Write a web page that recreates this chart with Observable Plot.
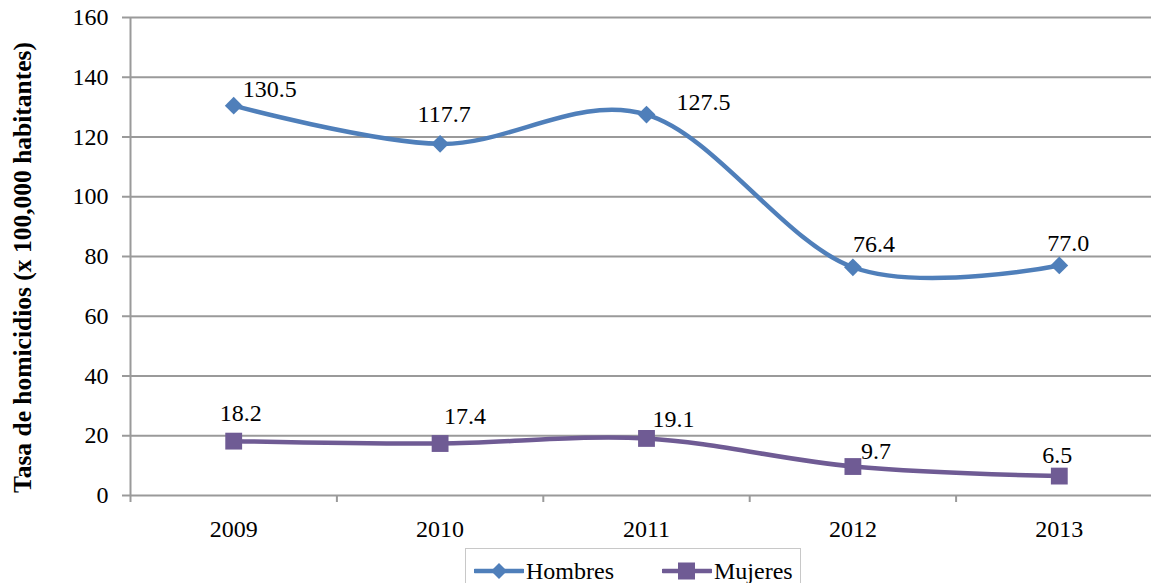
<!DOCTYPE html>
<html>
<head>
<meta charset="utf-8">
<script src="https://cdn.jsdelivr.net/npm/d3@7"></script>
<script src="https://cdn.jsdelivr.net/npm/@observablehq/plot@0.6"></script>
<style>
  html, body { margin: 0; padding: 0; background: #fff; overflow: hidden; }
  #chart { width: 1151px; height: 583px; position: relative; font-family: 'Liberation Serif', serif; }
  #legend { position: absolute; left: 465px; top: 548px; width: 336px; height: 44px; border: 1px solid #c8c8c8; box-sizing: border-box; background: #fff; font-family: 'Liberation Serif', serif; }
  .lg-item { position: absolute; top: 3px; display: flex; align-items: center; font-size: 24px; color: #000; }
  .lg-item svg { display: block; margin-right: 2px; }
</style>
</head>
<body>
<div id="chart"></div>
<script>
// ---- data ----
const years = [2009, 2010, 2011, 2012, 2013];
const hombres = [130.5, 117.7, 127.5, 76.4, 77.0];
const mujeres = [18.2, 17.4, 19.1, 9.7, 6.5];
const seriesNames = ["Hombres", "Mujeres"];
const yTicks = [0, 20, 40, 60, 80, 100, 120, 140, 160];
const yLabel = "Tasa de homicidios (x 100,000 habitantes)";

// ---- styles ----
const FONT = "Liberation Serif";
const colors = ["#4f7fba", "#6f5b94"];
const symbols = ["diamond2", "square"];
// label offsets (dx, dy) per point, per series
const offsetsH = [[36, -16], [4, -30], [57, -12], [21, -23], [9, -22]];
const offsetsM = [[7, -28], [25, -27], [27, -19], [23, -15], [-2, -21]];

const rows = [];
years.forEach((yr, i) => {
  rows.push({year: yr, value: hombres[i], series: seriesNames[0], dx: offsetsH[i][0], dy: offsetsH[i][1]});
});
years.forEach((yr, i) => {
  rows.push({year: yr, value: mujeres[i], series: seriesNames[1], dx: offsetsM[i][0], dy: offsetsM[i][1]});
});
const boundaries = d3.range(years.length + 1).map(i => years[0] - 0.5 + i);

const grid = "#9a9a9a";

const chart = Plot.plot({
  width: 1151,
  height: 540,
  marginLeft: 130,
  marginRight: -11,
  marginTop: 17,
  marginBottom: 45,
  style: {fontSize: "24px", background: "#fff", overflow: "visible"},
  x: {type: "linear", domain: [years[0] - 0.5, years[years.length - 1] + 0.5], axis: null},
  y: {domain: [0, 160], axis: null},
  color: {domain: seriesNames, range: colors},
  symbol: {domain: seriesNames, range: symbols},
  marks: [
    Plot.gridY(yTicks, {stroke: grid, strokeOpacity: 1, strokeWidth: 2}),
    Plot.ruleX([boundaries[0]], {stroke: grid, strokeWidth: 2}),
    Plot.axisY(yTicks, {tickSize: 8, tickPadding: 14, stroke: grid, strokeWidth: 2, fill: "#000", fontSize: 24, label: null, fontFamily: FONT}),
    Plot.axisX(boundaries, {tickSize: 7, stroke: grid, strokeWidth: 2, tickFormat: () => "", label: null}),
    Plot.axisX(years, {tickSize: 0, tickPadding: 24, tickFormat: d => String(d), fill: "#000", fontSize: 24, label: null, fontFamily: FONT}),
    ...seriesNames.map((s, k) => Plot.line(rows.filter(d => d.series === s), {
      x: "year", y: "value", stroke: colors[k], strokeWidth: 4.5, curve: "cardinal", tension: 0
    })),
    Plot.dot(rows.filter(d => d.series === seriesNames[0]), {x: "year", y: "value", symbol: "series", fill: colors[0], r: 8}),
    Plot.dot(rows.filter(d => d.series === seriesNames[1]), {x: "year", y: "value", symbol: "series", fill: colors[1], r: 9.5}),
    ...rows.map(d => Plot.text([d], {
      x: "year", y: "value", text: v => v.value.toFixed(1), dx: d.dx, dy: d.dy,
      fontSize: 24, fill: "#000", textAnchor: "middle", lineAnchor: "middle", fontFamily: FONT
    })),
    Plot.text([yLabel], {
      frameAnchor: "left", rotate: -90, dx: -108, dy: 11, text: d => d,
      fontSize: 25.5, fontWeight: "bold", fill: "#000", textAnchor: "middle", lineAnchor: "middle", fontFamily: FONT
    })
  ]
});

const root = document.getElementById("chart");
root.appendChild(chart);

// legend
const legend = document.createElement("div");
legend.id = "legend";
const legendX = [8, 196];
seriesNames.forEach((s, k) => {
  const item = document.createElement("div");
  item.className = "lg-item";
  item.style.left = legendX[k] + "px";
  const sym = k === 0
    ? `<path d="M25,11 L33,19 L25,27 L17,19 Z" fill="${colors[k]}"/>`
    : `<rect x="16" y="10.5" width="17" height="17" fill="${colors[k]}"/>`;
  item.innerHTML = `<svg width="50" height="38"><line x1="1" y1="19" x2="49" y2="19" stroke="${colors[k]}" stroke-width="4.5" stroke-linecap="round"/>${sym}</svg><span>${s}</span>`;
  legend.appendChild(item);
});
root.appendChild(legend);
</script>
</body>
</html>
